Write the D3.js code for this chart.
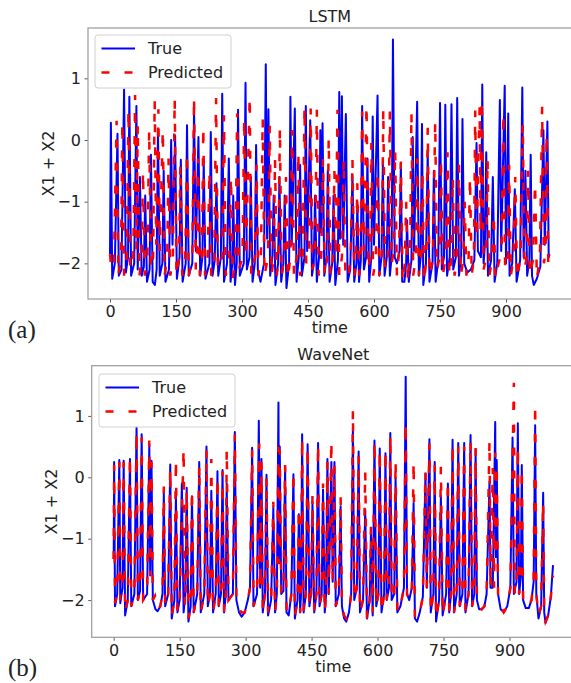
<!DOCTYPE html>
<meta charset="utf-8">
<script src="https://d3js.org/d3.v7.min.js"></script>
<style>
  body { margin: 0; background: #fff; }
  svg text { font-family: 'DejaVu Sans', sans-serif; fill: #222; }
</style>
<div id="chart"></div>
<script>

// values, [time, X1 + X2]
var lstmTrue = [
  [0,-1.85],[2,0.28],[5,-2.25],[11,-2.0],[17,0.1],[20,-2.2],[26,-2.1],[32,0.82],[36,-2.15],[41,-1.9],
  [44,0.7],[48,-2.2],[55,-2.0],[60,0.55],[63,-2.1],[68,-0.6],[72,-2.2],[77,-2.05],[80,-0.9],[84,-2.3],
  [90,-2.1],[93,-0.24],[97,-2.3],[102,-2.35],[106,-2.1],[109,0.16],[113,-2.2],[119,-2.0],[122,-0.5],[126,-2.3],
  [134,-2.1],[139,0.0],[142,-1.7],[148,0.07],[152,-2.25],[158,-1.9],[161,-0.32],[165,-2.3],[172,-2.0],[175,0.24],
  [179,-2.2],[187,-2.0],[191,0.5],[195,-1.8],[201,0.05],[205,-2.2],[210,-1.9],[213,-0.35],[217,-2.25],[226,-2.0],
  [229,0.13],[233,-2.2],[238,-1.95],[242,-0.7],[246,-2.2],[252,-1.9],[255,0.75],[259,-2.3],[266,-2.0],[270,-0.3],
  [274,-2.3],[278,-2.0],[280,-0.9],[284,-2.35],[288,-2.0],[291,0.49],[295,-2.2],[304,-2.0],[308,0.93],[311,-2.1],
  [317,-1.9],[320,-0.6],[324,-2.3],[329,-2.0],[332,-0.08],[336,-2.1],[342,-2.3],[350,-2.0],[354,1.23],[357,-1.6],
  [360,0.5],[364,-2.2],[369,-1.9],[372,-0.9],[376,-2.35],[382,-2.0],[385,-0.6],[389,-2.3],[394,-2.0],[397,-0.9],
  [401,-2.4],[407,-2.0],[410,0.7],[413,-1.7],[420,0.51],[424,-2.3],[429,-1.9],[432,-0.4],[436,-2.2],[442,-1.9],
  [445,0.55],[448,-1.8],[455,0.32],[459,-2.2],[463,-2.0],[466,-0.9],[470,-2.3],[475,-1.9],[478,0.16],[480,-1.5],
  [483,0.27],[487,-2.2],[492,-1.9],[495,-0.49],[499,-2.3],[505,-2.0],[508,-0.9],[512,-2.35],[518,-1.95],[521,0.78],
  [523,-1.6],[527,0.71],[530,-1.7],[536,0.42],[540,-2.3],[546,-2.1],[551,-0.57],[555,-2.3],[560,-2.0],[562,-1.0],
  [566,-2.3],[570,-1.95],[573,0.55],[577,-2.1],[582,-1.9],[585,-0.3],[589,-2.3],[594,-1.9],[597,0.38],[600,-1.7],
  [608,0.72],[612,-2.2],[617,-1.9],[620,-0.4],[624,-2.2],[629,-1.9],[632,-0.6],[636,-2.2],[640,-1.9],[643,1.63],
  [647,-1.9],[652,-2.0],[658,-1.8],[661,-0.38],[664,-2.3],[669,-2.3],[673,-2.0],[675,-1.3],[679,-2.3],[685,-1.95],
  [688,0.05],[691,-1.8],[698,0.62],[702,-2.2],[706,-1.9],[709,0.26],[712,-2.35],[718,-2.0],[722,-0.2],[726,-2.3],
  [733,-2.0],[736,-0.5],[740,-2.3],[746,-1.95],[750,0.6],[754,-2.1],[759,-1.9],[762,0.57],[766,-2.2],[772,-1.9],
  [776,0.58],[780,-2.1],[786,-1.9],[789,0.68],[793,-2.2],[798,-1.9],[801,0.34],[805,-2.0],[812,-2.15],[820,-2.1],
  [828,-1.95],[833,-0.05],[836,-1.8],[843,-1.9],[846,0.9],[849,-2.0],[852,-1.7],[855,-0.2],[859,-2.2],[866,-1.95],
  [870,-0.6],[874,-2.3],[880,-2.0],[886,0.65],[889,-1.8],[897,0.88],[900,-2.0],[905,0.43],[908,-2.2],[914,-2.0],
  [920,-0.8],[924,-2.3],[932,-1.95],[937,0.85],[940,-1.9],[944,-0.5],[948,-2.2],[953,-1.95],[956,-0.24],[959,-2.2],
  [963,-2.35],[970,-2.25],[978,-2.05],[985,0.16],[988,-1.7],[994,0.3],[997,-1.9],[999,-1.85]
];

var lstmPred = [
  [0,-1.85],[3,-2.1],[9,-2.0],[15,0.31],[19,-2.2],[25,-1.9],[28,0.3],[32,-2.2],[38,-1.9],[42,0.5],
  [46,-2.1],[53,-1.9],[57,0.73],[60,-1.8],[63,0.25],[67,-2.2],[72,-1.9],[75,-0.5],[79,-2.2],[85,-1.9],
  [89,0.17],[93,-2.1],[98,-1.9],[101.5,0.65],[105,-1.7],[110,0.5],[113,-1.8],[120,0.17],[124,-2.2],[130,-1.9],
  [133,-0.3],[137,-2.2],[143,-1.9],[147,0.68],[151,-2.2],[157,-1.9],[160,-0.4],[164,-2.2],[171,-1.9],[175,-0.2],
  [179,-2.2],[187,-1.9],[191,0.7],[195,-2.1],[198,-1.8],[200,-0.3],[204,-2.2],[209,-1.9],[212,0.22],[216,-2.2],
  [222,-1.9],[226,-0.5],[230,-2.2],[237,-1.9],[241,0.68],[245,-2.1],[255,-1.9],[259,0.4],[263,-2.2],[271,-1.9],
  [275,-0.6],[279,-2.25],[285,-1.9],[289,0.43],[293,-2.1],[301,-1.9],[305,0.36],[309,-1.9],[317.5,0.71],[321,-2.2],
  [329,-1.9],[333,-0.4],[337,-2.2],[343,-1.9],[347,0.35],[351,-2.2],[359,-1.9],[363,0.23],[367,-2.2],[372,-1.9],
  [375,-0.3],[379,-2.2],[383,-1.9],[386,0.2],[390,-2.2],[396,-1.9],[400,-0.6],[404,-2.25],[410,-1.9],[414,0.16],
  [418,-2.2],[424,-1.9],[428,-0.2],[432,-2.2],[438,-1.9],[442,0.54],[446,-2.0],[452,-1.9],[456,0.51],[460,-2.1],
  [466,-1.9],[470,0.49],[474,-2.2],[480,-1.9],[484,-0.3],[488,-2.2],[494,-1.9],[497,0.03],[501,-2.2],[507,-1.9],
  [510,-0.5],[513,-1.9],[517,0.49],[521,-2.2],[527,-1.9],[531,-0.3],[535,-2.2],[541,-2.25],[547,-1.9],[551,-0.31],
  [555,-2.2],[559,-1.9],[562,-0.7],[566,-2.2],[570,-1.9],[573,0.46],[577,-1.8],[583,0.57],[587,-2.1],[591,-1.9],
  [594,-0.05],[598,-2.2],[604,-1.9],[608,-0.5],[612,-2.2],[618,-1.9],[621,0.51],[625,-2.1],[632,-1.9],[636,0.46],
  [640,-2.0],[645,-1.8],[648,-0.16],[652,-2.2],[657,-1.8],[661,-0.35],[665,-2.3],[670,-2.0],[673,-1.0],[677,-2.3],
  [682,-1.9],[685,0.45],[689,-2.2],[695,-1.9],[698,-0.3],[702,-2.2],[707,-1.9],[710,-0.5],[714,-2.3],[719,-1.9],
  [722,0.2],[726,-2.2],[734,-1.9],[739,0.3],[743,-2.1],[749,-1.9],[752,-0.3],[756,-2.2],[763,-1.9],[767,-0.2],
  [771,-2.2],[776,-1.9],[779,-0.6],[783,-2.2],[789,-1.9],[793,-0.4],[797,-2.2],[803,-1.95],[806,-1.0],[810,-2.2],
  [815,-1.9],[818,-0.6],[822,-2.2],[827,-1.9],[830,0.48],[833,-1.6],[840,0.54],[842,-1.5],[845,0.66],[849,-2.1],
  [855,-1.9],[858,-0.3],[862,-2.2],[868,-1.95],[872,-1.2],[876,-2.25],[883,-2.0],[890,-1.8],[894,0.44],[898,-2.1],
  [904,-1.9],[907,-0.4],[911,-2.2],[917,-1.9],[921,-0.6],[925,-2.25],[933,-1.9],[938,0.27],[942,-2.1],[947,-1.9],
  [950,-0.5],[954,-2.2],[961,-1.95],[966,-0.7],[970,-2.25],[977,-1.9],[982,0.54],[986,-2.0],[990,-1.8],[992,0.1],
  [996,-2.0],[999,-1.8]
];

var wavenetTrue = [
  [0,-1.33],[1,0.25],[3,-2.1],[8,-1.9],[12.8,0.28],[15,-2.05],[20,-1.8],[22.7,0.27],[26,-2.25],[32,-2.0],
  [37,0.3],[40,-2.1],[47,-1.9],[52,0.81],[55,-2.0],[60,-1.85],[63.6,0.7],[67,-2.0],[76,-1.9],[81,0.53],
  [83,-1.6],[86,0.27],[89,-2.0],[95,-2.15],[100,-2.18],[106,-2.1],[111,-1.9],[114,-0.25],[117,-2.1],[124,-1.9],
  [128.6,0.21],[132,-2.3],[138,-2.0],[141.5,-0.29],[145,-2.2],[150,-2.0],[155,-0.1],[159,-2.2],[163,-1.9],[166,-0.17],
  [170,-2.35],[175,-2.1],[178,-0.31],[182,-2.2],[190,-1.9],[194.5,0.25],[198,-2.2],[206,-1.9],[211,0.5],[214,-2.1],
  [219,-1.9],[222,-0.22],[226,-2.2],[232,-1.9],[236,0.1],[239,-2.1],[244,-1.9],[247.5,0.12],[251,-2.2],[255,-1.9],
  [257,-0.1],[261,-2.0],[271,-1.9],[275.5,0.74],[279,-2.0],[285,-2.2],[291,-2.27],[298,-2.2],[305,-2.0],[310,-1.8],
  [314.8,0.48],[318,-2.1],[326,-1.9],[330,0.92],[333,-1.8],[336,0.3],[339,-2.2],[344,-1.9],[347.5,0.04],[351,-2.25],
  [358,-2.0],[363,-0.5],[367,-2.2],[371,-1.9],[374.7,1.22],[376,-1.4],[377.6,0.5],[381,-1.9],[386,-1.85],[389.8,0.18],
  [393,-2.2],[398,-2.25],[404,-1.9],[408.7,0.05],[412,-2.3],[418,-2.0],[421,-0.6],[424,-2.2],[426,-1.9],[428.5,0.7],
  [432,-2.2],[437,-1.9],[441,0.54],[445,-2.1],[449,-1.9],[452,-0.4],[456,-2.2],[461,-1.9],[464.8,0.56],[468,-2.1],
  [473,-1.9],[476,-0.2],[480,-2.2],[483,-1.9],[486,0.3],[489,-1.9],[495,0.25],[498,-1.7],[502,0.25],[505,-2.1],
  [512,-1.9],[516,-0.47],[519,-2.1],[524,-2.3],[529,-2.35],[535,-2.2],[540,-1.9],[544,0.8],[547,-2.0],[553,-1.8],
  [557,0.42],[560,-2.2],[567,-2.0],[572,-0.53],[576,-2.3],[582,-2.0],[585,-0.9],[589,-2.25],[593,0.6],[597,-2.1],
  [602,-1.9],[605,0.47],[609,-2.2],[615,-1.9],[618,0.39],[621,-2.0],[626,-1.8],[629,0.72],[632,-2.0],[638,-1.9],
  [641,0.0],[645,-2.2],[652,-2.1],[660,-1.8],[664,1.64],[667,-1.9],[672,-2.0],[678,-1.8],[682,-0.42],[685,-2.3],
  [690,-2.35],[696,-2.2],[703,-1.95],[709,0.06],[712,-1.8],[718,0.62],[721,-2.2],[727,-1.9],[730,0.25],[733,-2.35],
  [740,-2.0],[744,-0.3],[748,-2.25],[756,-1.9],[760,-0.1],[763,-2.2],[767,-1.9],[770.6,0.61],[774,-2.2],[780,-1.9],
  [783.5,0.56],[787,-2.1],[793,-1.9],[797,0.56],[800,-2.2],[807,-1.9],[811.5,0.69],[815,-2.1],[820,-1.9],[823,0.45],
  [826,-2.0],[831,-2.15],[837,-2.15],[843,-2.1],[848,-1.9],[854.6,-0.07],[857,-1.8],[862,-1.8],[867.6,0.9],[869,-1.3],
  [871,0.28],[874,-1.9],[880,-2.15],[887,-2.2],[895,-2.1],[902,-1.8],[907,0.65],[910,-1.9],[916,-1.7],[919,0.88],
  [922,-1.9],[926,-1.6],[928,0.2],[931,-2.0],[937,-2.13],[944,-2.13],[950,-2.0],[955,-1.7],[958.4,0.85],[961,-1.9],
  [966,-2.3],[972,-2.1],[976.6,-0.25],[979,-2.2],[982,-2.37],[988,-2.25],[994,-1.95],[999,-1.43]
];

var wavenetPred = [
  [0,-1.33],[1,0.2],[3,-2.05],[8,-1.9],[12.8,0.25],[15,-2.0],[20,-1.8],[22.7,0.25],[26,-2.2],[32,-2.0],
  [37,0.35],[40,-2.1],[47,-1.9],[52,0.75],[55,-2.0],[60,-1.85],[63.6,0.65],[67,-2.0],[76,-1.9],[81,0.6],
  [83,-1.6],[86,0.25],[89,-2.0],[94,-1.93],[100,-2.15],[106,-2.1],[111,-1.9],[114,-0.15],[117,-2.1],[124,-1.9],
  [128.6,0.15],[132,-2.25],[138,-2.0],[141.5,0.3],[145,-2.2],[150,-2.0],[159,0.47],[162,-2.1],[164,-1.9],[166,-0.2],
  [170,-2.3],[175,-2.1],[178,-0.2],[182,-2.2],[190,-1.9],[194.5,0.2],[198,-2.2],[206,-1.9],[211,0.45],[214,-2.1],
  [219,-1.9],[222,0.3],[226,-2.2],[232,-1.9],[236,0.0],[239,-2.1],[244,-1.9],[247.5,0.1],[251,-2.2],[255,-1.9],
  [257,0.46],[261,-2.0],[271,-1.9],[275.5,0.7],[279,-2.0],[285,-2.15],[291,-2.2],[298,-2.2],[305,-2.0],[310,-1.8],
  [314.8,0.45],[318,-2.1],[326,-1.9],[331,0.55],[333,-1.8],[336,0.25],[339,-2.2],[344,-1.9],[347.5,0.0],[351,-2.2],
  [358,-2.0],[363,-0.4],[367,-2.2],[371,-1.9],[374.7,0.5],[376,-1.4],[377.6,0.45],[381,-1.9],[386,-1.85],[389.8,0.2],
  [393,-2.2],[398,-2.2],[404,-1.9],[408.7,0.1],[412,-2.25],[418,-2.0],[421,-0.5],[424,-2.2],[426,-1.9],[428.5,0.65],
  [432,-2.2],[437,-1.9],[441,0.5],[445,-2.1],[449,-1.9],[452,-0.3],[456,-2.2],[461,-1.9],[464.8,0.55],[468,-2.1],
  [473,-1.9],[476,-0.1],[480,-2.2],[483,-1.9],[486,0.25],[489,-1.9],[495,0.6],[498,-1.7],[502,0.2],[505,-2.1],
  [512,-1.9],[516,-0.3],[519,-2.1],[524,-2.25],[529,-2.3],[535,-2.2],[540,-1.9],[544,1.1],[547,-2.0],[553,-1.8],
  [557,0.35],[560,-2.2],[567,-2.0],[572,0.1],[576,-2.3],[582,-2.0],[585,-0.8],[589,-2.2],[593,0.6],[597,-2.1],
  [602,-1.9],[605,0.45],[609,-2.2],[615,-1.9],[618,0.45],[621,-2.0],[626,-1.8],[629,0.7],[632,-2.0],[638,-1.9],
  [641,0.28],[645,-2.2],[652,-2.1],[660,-1.8],[664,0.9],[667,-1.9],[672,-2.0],[678,-1.8],[682,0.26],[685,-2.3],
  [690,-2.3],[696,-2.2],[703,-1.95],[709,0.1],[712,-1.8],[718,0.55],[721,-2.2],[727,-1.9],[730,0.2],[733,-2.3],
  [740,-2.0],[744,0.17],[748,-2.25],[756,-1.9],[760,-0.05],[763,-2.2],[767,-1.9],[770.6,0.55],[774,-2.2],[780,-1.9],
  [783.5,0.5],[787,-2.1],[793,-1.9],[797,0.5],[800,-2.2],[807,-1.9],[811.5,0.6],[815,-2.1],[820,-1.9],[823,0.48],
  [826,-2.0],[831,-2.1],[837,-2.15],[843,-2.1],[848,-1.9],[854.6,0.6],[857,-1.8],[862,0.15],[865,-1.8],[867.6,0.4],
  [869,-1.3],[871,0.2],[874,-1.9],[880,-2.1],[887,-2.2],[895,-2.1],[902,-1.8],[910,1.54],[912,-1.9],[916,-1.7],
  [919,0.5],[922,-1.9],[926,-1.6],[928,0.15],[931,-2.0],[937,-2.1],[944,-2.1],[950,-2.0],[955,-1.7],[958.4,1.2],
  [961,-1.9],[966,-2.25],[972,-2.1],[976.6,-0.4],[979,-2.2],[982,-2.35],[988,-2.25],[994,-1.95],[999,-1.6]
];

var xTicks = [0, 150, 300, 450, 600, 750, 900];
var yTicks = [-2, -1, 0, 1];
var seriesNames = ["True", "Predicted"];

var W = 571, H = 683;

var svg = d3.select("#chart").append("svg")
  .attr("width", W)
  .attr("height", H);

function fmt(d) { return d < 0 ? "\u2212" + Math.abs(d) : String(d); }

function panel(opt) {
  var x = d3.scaleLinear().domain([-50, 1049]).range([opt.left, opt.right]);
  var y = d3.scaleLinear().domain(opt.yDomain).range([opt.bottom, opt.top]);

  var g = svg.append("g");
  var clipId = "clip-" + opt.id;
  g.append("clipPath").attr("id", clipId)
    .append("rect")
      .attr("x", opt.left).attr("y", opt.top)
      .attr("width", opt.right - opt.left).attr("height", opt.bottom - opt.top);

  var line = d3.line()
    .x(function(d) { return x(d[0]); })
    .y(function(d) { return y(d[1]); });

  var plot = g.append("g").attr("clip-path", "url(#" + clipId + ")");
  plot.append("path")
    .datum(opt.trueData)
    .attr("d", line)
    .attr("fill", "none")
    .attr("stroke", "#0000ff")
    .attr("stroke-width", 2)
    .attr("stroke-linejoin", "round");
  plot.append("path")
    .datum(opt.predData)
    .attr("d", line)
    .attr("fill", "none")
    .attr("stroke", "#ff0000")
    .attr("stroke-width", 2.5)
    .attr("stroke-dasharray", "8,15");

  // axes
  var xAxis = g.append("g")
    .attr("transform", "translate(0," + opt.bottom + ")")
    .call(d3.axisBottom(x).tickValues(xTicks).tickSize(3.5).tickPadding(3.5).tickFormat(fmt));
  var yAxis = g.append("g")
    .attr("transform", "translate(" + opt.left + ",0)")
    .call(d3.axisLeft(y).tickValues(yTicks).tickSize(3.5).tickPadding(3.5).tickFormat(fmt));
  [xAxis, yAxis].forEach(function(a) {
    a.select(".domain").remove();
    a.selectAll(".tick line").attr("stroke", "#333").attr("stroke-width", 0.8);
    a.selectAll(".tick text").style("font-size", "16px").attr("fill", "#222");
  });

  // frame
  g.append("rect")
    .attr("x", opt.left).attr("y", opt.top)
    .attr("width", opt.right - opt.left).attr("height", opt.bottom - opt.top)
    .attr("fill", "none")
    .attr("stroke", "#999")
    .attr("stroke-width", 1.2);

  // title and labels
  var cx = (opt.left + opt.right) / 2;
  g.append("text")
    .attr("x", cx).attr("y", opt.top - 6)
    .attr("text-anchor", "middle")
    .style("font-size", "16px")
    .text(opt.title);
  g.append("text")
    .attr("x", cx).attr("y", opt.timeY)
    .attr("text-anchor", "middle")
    .style("font-size", "16px")
    .text("time");
  g.append("text")
    .attr("transform", "translate(" + opt.ylabX + "," + (opt.top + opt.bottom) / 2 + ") rotate(-90)")
    .attr("text-anchor", "middle")
    .attr("dy", "0.35em")
    .style("font-size", "16px")
    .text("X1 + X2");
  g.append("text")
    .attr("x", 8).attr("y", opt.tagY)
    .style("font-family", "'Liberation Serif', 'DejaVu Serif', serif")
    .style("font-size", "25px")
    .attr("fill", "#111")
    .text(opt.tag);

  // legend
  var lg = g.append("g").attr("transform", "translate(" + opt.legX + "," + opt.legY + ")");
  lg.append("rect")
    .attr("width", 136).attr("height", 53).attr("rx", 3)
    .attr("fill", "#fff").attr("fill-opacity", 0.8)
    .attr("stroke", "#d0d0d0");
  var rows = lg.selectAll(".row").data(seriesNames).enter().append("g")
    .attr("class", "row")
    .attr("transform", function(d, i) { return "translate(0," + (13.5 + i * 24) + ")"; });
  rows.append("line")
    .attr("x1", 6.5).attr("x2", 40)
    .attr("stroke", function(d, i) { return i === 0 ? "#0000ff" : "#ff0000"; })
    .attr("stroke-width", function(d, i) { return i === 0 ? 2 : 2.5; })
    .attr("stroke-dasharray", function(d, i) { return i === 0 ? null : "8,15"; });
  rows.append("text")
    .attr("x", 53).attr("y", 0)
    .attr("dy", "0.36em")
    .style("font-size", "16px")
    .text(function(d) { return d; });
}

panel({
  id: "a", title: "LSTM", tag: "(a)",
  left: 88, right: 571.6, top: 28, bottom: 299,
  yDomain: [-2.578, 1.816],
  trueData: lstmTrue, predData: lstmPred,
  timeY: 333, ylabX: 48.5, tagY: 338, legX: 95, legY: 35
});

panel({
  id: "b", title: "WaveNet", tag: "(b)",
  left: 91.7, right: 575, top: 365.7, bottom: 637.3,
  yDomain: [-2.606, 1.818],
  trueData: wavenetTrue, predData: wavenetPred,
  timeY: 671.5, ylabX: 51.5, tagY: 676, legX: 99, legY: 374
});

</script>
